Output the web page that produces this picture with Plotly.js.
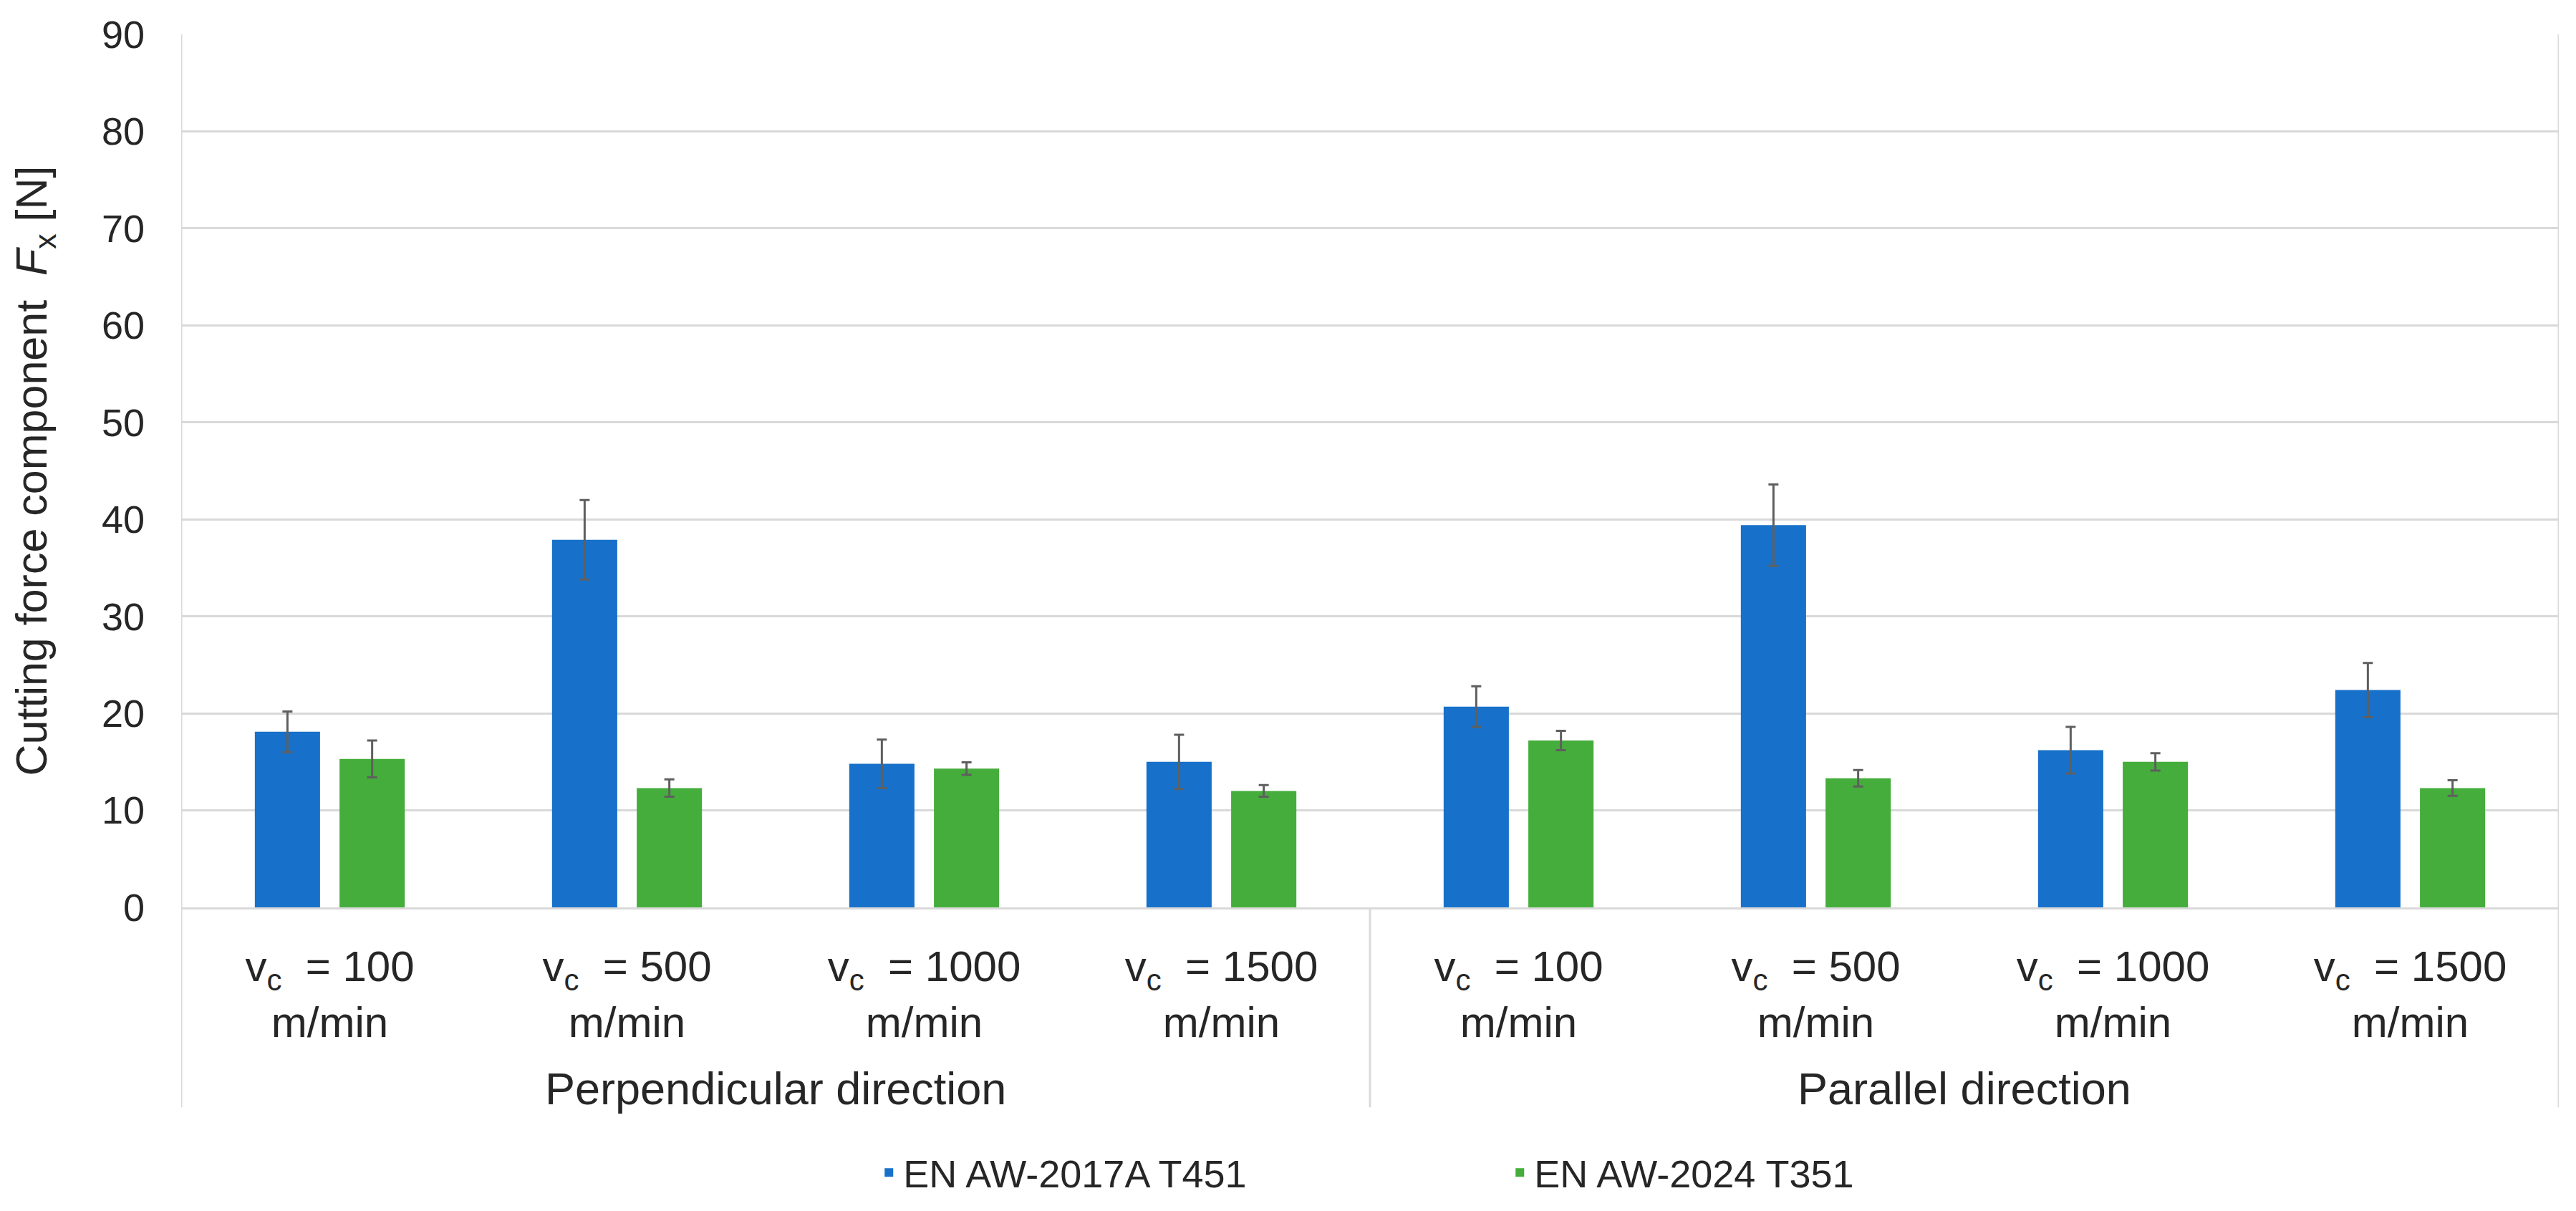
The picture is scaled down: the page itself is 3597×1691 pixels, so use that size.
<!DOCTYPE html>
<html>
<head>
<meta charset="utf-8">
<script src="https://cdn.plot.ly/plotly-3.0.1.min.js"></script>
<style>html,body{margin:0;padding:0;background:#fff;}#chart{width:3597px;height:1691px;}</style>
</head>
<body>
<div id="chart"></div>
<script>
// ---- data ----
const speeds = ['100', '500', '1000', '1500', '100', '500', '1000', '1500'];
const groups = ['Perpendicular direction', 'Parallel direction'];
const groupOf = [0, 0, 0, 0, 1, 1, 1, 1];
const seriesNames = ['EN AW-2017A T451', 'EN AW-2024 T351'];
const fx2017 = [18.1, 37.9, 14.8, 15.0, 20.7, 39.4, 16.2, 22.4];
const err2017 = [2.1, 4.1, 2.5, 2.8, 2.1, 4.2, 2.4, 2.8];
const fx2024 = [15.3, 12.3, 14.3, 12.0, 17.2, 13.3, 15.0, 12.3];
const err2024 = [1.9, 0.9, 0.65, 0.6, 1.0, 0.85, 0.9, 0.8];
const yTicks = [0, 10, 20, 30, 40, 50, 60, 70, 80, 90];

// ---- build ----
const xs = speeds.map((_, i) => i);
const tickText = speeds.map(s => 'v<sub>c</sub>  = ' + s + '<br>m/min');
const FONT = 'Liberation Sans, Arial, sans-serif';
const TXT = '#262626';
const GRID = '#D9D9D9';

function barTrace(name, y, err, color) {
  return {
    type: 'bar', name: name, x: xs, y: y,
    marker: {color: color, line: {width: 0}},
    error_y: {type: 'data', array: err, visible: true, color: '#5f5f5f', thickness: 3, width: 7},
    hoverinfo: 'skip'
  };
}
const data = [
  barTrace(seriesNames[0], fx2017, err2017, '#1771CA'),
  barTrace(seriesNames[1], fx2024, err2024, '#44AD3B')
];

const H = 1691, mt = 48, mb = 416;
const plotH = H - mt - mb;

const shapes = [];
const annotations = [];
const edges = [-0.5];
groups.forEach((g, gi) => {
  const idx = xs.filter(i => groupOf[i] === gi);
  edges.push(idx[idx.length - 1] + 0.5);
  const center = (idx[0] + idx[idx.length - 1]) / 2;
  annotations.push({
    text: g, xref: 'x', x: center, yref: 'paper', y: -(1530 - (H - mb)) / plotH,
    yanchor: 'middle', xanchor: 'center', showarrow: false,
    font: {family: FONT, size: 63, color: TXT}
  });
});
const yBottom = -(1556 - (H - mb)) / plotH;
edges.forEach((e, k) => {
  const outer = (k === 0 || k === edges.length - 1);
  shapes.push({type: 'line', xref: 'x', yref: 'paper', x0: e, x1: e, y0: yBottom, y1: outer ? 1 : 0,
    line: {color: GRID, width: 3}, layer: 'below'});
});

const layout = {
  width: 3597, height: 1691,
  margin: {l: 253, r: 24, t: mt, b: mb},
  paper_bgcolor: '#ffffff', plot_bgcolor: '#ffffff',
  barmode: 'group', bargap: 0.43, bargroupgap: 0.23,
  showlegend: true,
  legend: {
    orientation: 'h', x: 0.557, xanchor: 'center', xref: 'paper',
    y: -(1648 - (H - mb)) / plotH, yanchor: 'middle',
    font: {family: FONT, size: 54, color: TXT},
    entrywidth: 836, entrywidthmode: 'pixels', traceorder: 'normal'
  },
  xaxis: {
    range: [-0.5, xs.length - 0.5], tickvals: xs, ticktext: tickText,
    tickfont: {family: FONT, size: 60, color: TXT},
    showgrid: false, zeroline: false, showline: true, linecolor: GRID, linewidth: 3,
    ticks: '', ticklabelstandoff: 28, fixedrange: true
  },
  yaxis: {
    range: [0, 90], tickvals: yTicks, ticktext: yTicks.map(String),
    tickfont: {family: FONT, size: 54, color: TXT},
    showgrid: true, gridcolor: GRID, gridwidth: 3, zeroline: false, showline: false,
    ticks: '', ticklabelstandoff: 50,
    title: {text: 'Cutting force component  <i>F</i><sub>x</sub> [N]', font: {family: FONT, size: 61, color: TXT}, standoff: 56},
    fixedrange: true
  },
  shapes: shapes,
  annotations: annotations,
  font: {family: FONT, color: TXT}
};

Plotly.newPlot('chart', data, layout, {staticPlot: true, displayModeBar: false});
</script>
</body>
</html>
